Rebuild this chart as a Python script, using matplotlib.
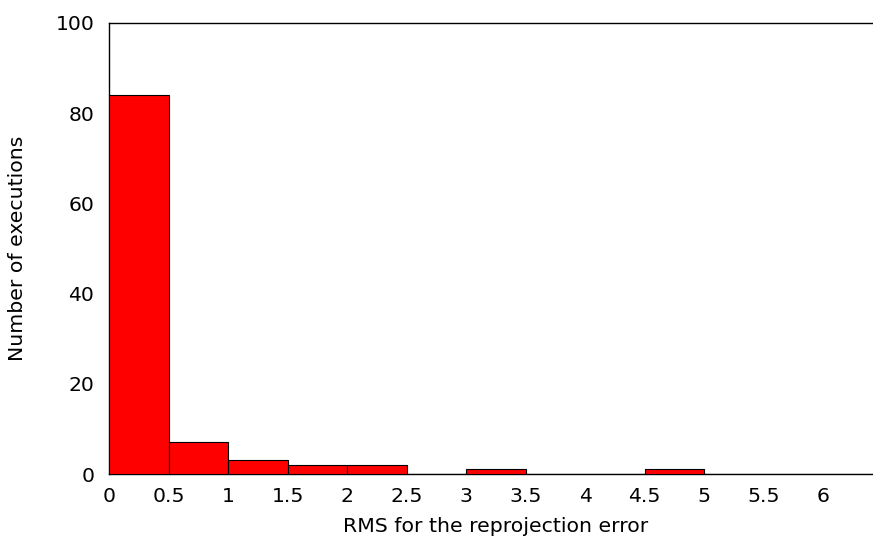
import numpy as np
import matplotlib
matplotlib.use("Agg")
import matplotlib.pyplot as plt

# histogram of RMS reprojection error, bins of width 0.5
bin_edges = [0, 0.5, 1, 1.5, 2, 2.5, 3, 3.5, 4, 4.5, 5, 5.5, 6, 6.5]
counts = [84, 7, 3, 2, 2, 0, 1, 0, 0, 1, 0, 0, 0]
x_ticks = [0, 0.5, 1, 1.5, 2, 2.5, 3, 3.5, 4, 4.5, 5, 5.5, 6]
x_tick_labels = ["0", "0.5", "1", "1.5", "2", "2.5", "3", "3.5", "4", "4.5", "5", "5.5", "6"]
y_ticks = [0, 20, 40, 60, 80, 100]

plt.rcParams["font.family"] = "DejaVu Sans"
fs = 14.7

fig = plt.figure(figsize=(8.73, 5.44), dpi=100)
# right border of the plot falls outside the image, like in the original
ax = fig.add_axes([109 / 873, 1 - 474 / 544, 773.5 / 873, 451 / 544])

lefts = np.array(bin_edges[:-1])
widths = np.diff(bin_edges)
ax.bar(lefts, counts, width=widths, align="edge", color="#ff0000",
       edgecolor="black", linewidth=0.8, zorder=3)

ax.set_xlim(0, 6.5)
ax.set_ylim(0, 100)
ax.set_xticks(x_ticks)
ax.set_xticklabels(x_tick_labels)
ax.set_yticks(y_ticks)
ax.tick_params(length=0, labelsize=fs, colors="black")
ax.tick_params(axis="y", pad=10.5)
ax.tick_params(axis="x", pad=9.5)

for side in ["left", "top", "bottom"]:
    ax.spines[side].set_linewidth(1.0)
    ax.spines[side].set_color("black")
ax.spines["right"].set_visible(False)

ax.set_xlabel("RMS for the reprojection error", fontsize=fs, va="center")
ax.set_ylabel("Number of executions", fontsize=fs, va="center")
ax.xaxis.set_label_coords(0.5, (474 - 527) / 451)
ax.yaxis.set_label_coords((18 - 109) / 773.5, 0.5)

fig.savefig("out.png", dpi=100)
